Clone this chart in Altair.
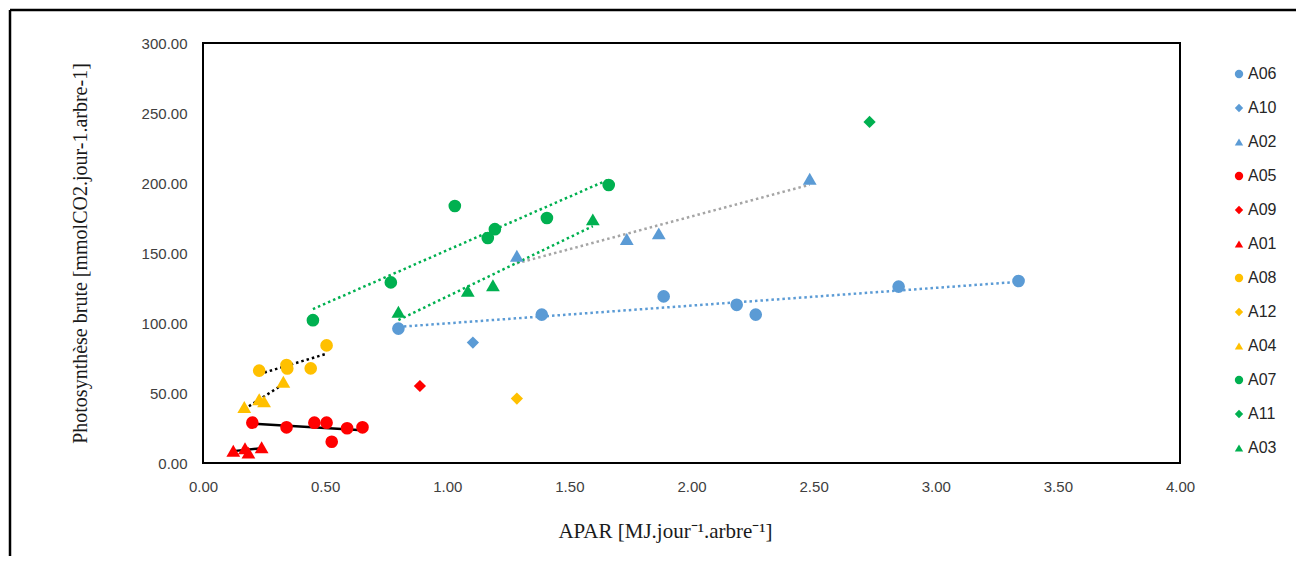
import altair as alt
import pandas as pd

# ---- data ----
series_order = ["A06", "A10", "A02", "A05", "A09", "A01", "A08", "A12", "A04", "A07", "A11", "A03"]
series_colors = ["#5B9BD5", "#5B9BD5", "#5B9BD5", "#FF0000", "#FF0000", "#FF0000",
                 "#FFC000", "#FFC000", "#FFC000", "#00B050", "#00B050", "#00B050"]
series_shapes = ["circle", "diamond", "triangle-up"] * 4

a06_x = [0.80, 1.387, 1.886, 2.185, 2.263, 2.848, 3.339]
a06_y = [96, 106, 119, 113, 106, 126, 130]
a10_x = [1.105]
a10_y = [86]
a02_x = [1.285, 1.735, 1.866, 2.484]
a02_y = [148, 160, 164, 203]
a05_x = [0.202, 0.342, 0.456, 0.506, 0.527, 0.590, 0.653]
a05_y = [28.8, 25.5, 28.8, 28.8, 15.2, 24.8, 25.5]
a09_x = [0.888]
a09_y = [55]
a01_x = [0.124, 0.172, 0.186, 0.240]
a01_y = [8.8, 10.5, 7.4, 11.2]
a08_x = [0.230, 0.342, 0.345, 0.441, 0.506]
a08_y = [66, 70, 67.5, 67.6, 84]
a12_x = [1.285]
a12_y = [46]
a04_x = [0.169, 0.230, 0.250, 0.329]
a04_y = [40, 45.5, 44, 58]
a07_x = [0.450, 0.769, 1.031, 1.166, 1.195, 1.408, 1.661]
a07_y = [102, 129, 183.6, 160.7, 167, 175, 198.6]
a11_x = [2.729]
a11_y = [243.6]
a03_x = [0.80, 1.084, 1.187, 1.596]
a03_y = [108, 123, 127, 174]

xs = [a06_x, a10_x, a02_x, a05_x, a09_x, a01_x, a08_x, a12_x, a04_x, a07_x, a11_x, a03_x]
ys = [a06_y, a10_y, a02_y, a05_y, a09_y, a01_y, a08_y, a12_y, a04_y, a07_y, a11_y, a03_y]

# trendlines: series, colour, dash
trend_series = ["A06", "A02", "A05", "A01", "A08", "A04", "A07", "A03"]
trend_colors = ["#5B9BD5", "#A5A5A5", "#000000", "#000000", "#000000", "#000000", "#00B050", "#00B050"]
trend_dotted = [True, True, False, False, True, True, True, True]

x_ticks = [0, 0.5, 1, 1.5, 2, 2.5, 3, 3.5, 4]
y_ticks = [0, 50, 100, 150, 200, 250, 300]

rows = []
for s, xv, yv in zip(series_order, xs, ys):
    for a, b in zip(xv, yv):
        rows.append({"serie": s, "x": a, "y": b})
df = pd.DataFrame(rows)

shape_size = {"circle": 160, "diamond": 150, "triangle-up": 190}
df["sz"] = df["serie"].map(dict(zip(series_order, [shape_size[s] for s in series_shapes])))

PW, PH = 977, 420
PL, PT = 195, 35
TOTW, TOTH = 1288, 548

xscale = alt.Scale(domain=[0, 4], nice=False, zero=False)
yscale = alt.Scale(domain=[0, 300], nice=False, zero=False)

xaxis = alt.Axis(values=x_ticks, format=".2f", title="APAR [MJ.jour\u207b\u00b9.arbre\u207b\u00b9]",
                 titleX=462, titleY=74, titleBaseline="alphabetic", titleFontSize=21, labelFlush=False)
yaxis = alt.Axis(values=y_ticks, format=".2f", title="Photosynthèse brute [mmolCO2.jour-1.arbre-1]",
                 titleX=-117, titleY=210, titleAngle=270, titleBaseline="alphabetic", labelFlush=False)

base = alt.Chart(df)

legend = alt.Legend(title=None, orient="none", legendX=1028, legendY=23)

points = base.mark_point(filled=True, opacity=1, strokeWidth=0).encode(
    x=alt.X("x:Q", scale=xscale, axis=xaxis),
    y=alt.Y("y:Q", scale=yscale, axis=yaxis),
    color=alt.Color("serie:N", scale=alt.Scale(domain=series_order, range=series_colors), legend=legend),
    shape=alt.Shape("serie:N", scale=alt.Scale(domain=series_order, range=series_shapes), legend=legend),
    size=alt.Size("sz:Q", scale=None, legend=None),
)

trend_layers = []
for s, c, dotted in zip(trend_series, trend_colors, trend_dotted):
    kw = dict(color=c, strokeWidth=2.5)
    if dotted:
        kw["strokeDash"] = [2.5, 3]
    ln = base.transform_filter(alt.datum.serie == s).transform_regression("x", "y").mark_line(**kw).encode(
        x=alt.X("x:Q", scale=xscale),
        y=alt.Y("y:Q", scale=yscale),
    )
    trend_layers.append(ln)

frame_data = alt.Data(values=[{"k": 1}])
left_line = alt.Chart(frame_data).mark_rule(color="#000000", strokeWidth=2.5).encode(
    x=alt.value(-PL + 2), y=alt.value(-PT + 2), y2=alt.value(TOTH - PT + 10))
top_line = alt.Chart(frame_data).mark_rule(color="#000000", strokeWidth=2.5).encode(
    x=alt.value(-PL + 2), x2=alt.value(TOTW - PL + 10), y=alt.value(-PT + 2))

chart = alt.layer(*trend_layers, points, left_line, top_line).properties(
    width=PW, height=PH,
    autosize=alt.AutoSizeParams(type="none"),
    padding={"left": PL, "top": PT, "right": TOTW - PL - PW, "bottom": TOTH - PT - PH},
).configure_view(
    stroke="#000000", strokeWidth=2
).configure_axis(
    domain=False, ticks=False, grid=False,
    labelFont="Liberation Sans", labelFontSize=15, labelColor="#404040", labelPadding=16,
    titleFont="Liberation Serif", titleFontSize=20, titleFontWeight="normal", titleColor="#1a1a1a",
).configure_legend(
    labelFont="Liberation Sans", labelFontSize=16, labelColor="#262626",
    symbolSize=70, symbolStrokeWidth=0, rowPadding=18, labelOffset=1, padding=0,
)

chart.save("out.html", embed_options={"renderer": "svg", "actions": False})
